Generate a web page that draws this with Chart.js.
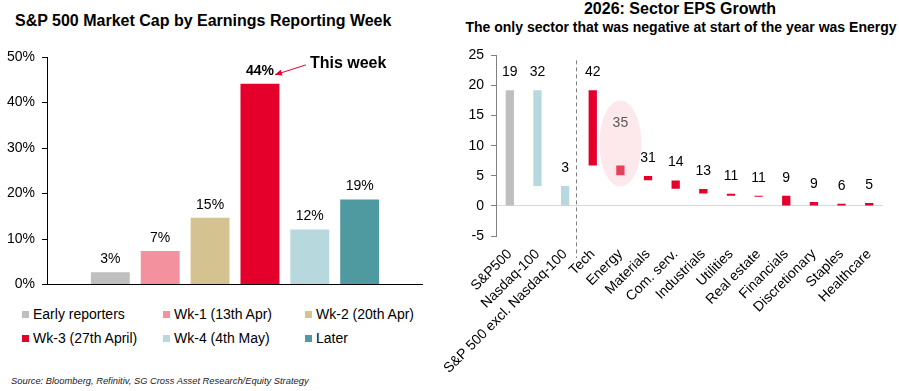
<!DOCTYPE html>
<html lang="en">
<head>
  <meta charset="UTF-8">
  <title>S&amp;P 500 earnings season</title>
  <script src="https://cdn.jsdelivr.net/npm/chart.js"></script>
  <style>
    body { margin: 0; background: #fff; font-family: "Liberation Sans", Arial, sans-serif; color: #000; }
    #page { position: relative; width: 899px; height: 391px; overflow: hidden; }
    .abs { position: absolute; white-space: nowrap; }
    #leftTitle { left: 15px; top: 11px; font-weight: bold; font-size: 16px; line-height: 20px; }
    #rightTitle { left: 680px; top: -1px; transform: translateX(-50%); font-weight: bold; font-size: 16px; line-height: 20px; }
    #rightSub { left: 681px; top: 17px; transform: translateX(-50%); font-weight: bold; font-size: 14px; line-height: 20px; }
    #leftWrap { left: 0; top: 40px; width: 450px; height: 260px; }
    #rightWrap { left: 440px; top: 40px; width: 459px; height: 351px; }
    .leg { font-size: 14px; line-height: 18px; }
    .leg i { position: absolute; left: 0; top: 6px; width: 7px; height: 7px; }
    .leg span { position: absolute; left: 11px; top: 0; }
    #source { left: 11px; top: 375px; font-style: italic; font-size: 9.35px; line-height: 12px; color: #222; }
  </style>
</head>
<body>
<div id="page">
  <div class="abs" id="leftTitle">S&amp;P 500 Market Cap by Earnings Reporting Week</div>
  <div class="abs" id="rightTitle">2026: Sector EPS Growth</div>
  <div class="abs" id="rightSub">The only sector that was negative at start of the year was Energy</div>
  <div class="abs" id="leftWrap"><canvas id="weekChart" width="450" height="260"></canvas></div>
  <div class="abs" id="rightWrap"><canvas id="epsChart" width="459" height="351"></canvas></div>
  <div id="legend"></div>
  <div class="abs" id="source">Source: Bloomberg, Refinitiv, SG Cross Asset Research/Equity Strategy</div>
</div>

<script>
  // left panel: share of market cap by reporting week
  const weekLabels = ['Early reporters', 'Wk-1 (13th Apr)', 'Wk-2 (20th Apr)', 'Wk-3 (27th April)', 'Wk-4 (4th May)', 'Later'];
  const weekShare = [2.7, 7.4, 14.7, 44.1, 12.1, 18.7];
  const weekShareText = ['3%', '7%', '15%', '44%', '12%', '19%'];
  const shareTicks = [0, 10, 20, 30, 40, 50];

  // right panel: sector EPS growth bars (from / to) and growth labels
  const sectors = ['S&P500', 'Nasdaq-100', 'S&P 500 excl. Nasdaq-100', 'Tech', 'Energy', 'Materials', 'Com. serv.',
    'Industrials', 'Utilities', 'Real estate', 'Financials', 'Discretionary', 'Staples', 'Healthcare'];
  const epsFrom = [0, 3.3, 0, 6.7, 5.1, 4.25, 2.85, 2.05, 1.67, 1.5, 0, 0, 0, 0];
  const epsTo = [19.2, 19.2, 3.3, 19.2, 6.7, 4.95, 4.2, 2.8, 2.0, 1.67, 1.7, 0.65, 0.35, 0.5];
  const epsGrowth = [19, 32, 3, 42, 35, 31, 14, 13, 11, 11, 9, 9, 6, 5];
  const epsTicks = [-5, 0, 5, 10, 15, 20, 25];

  const weekColors = ['#bfbfbf', '#f4919f', '#d4c291', '#e4002b', '#b7d8dc', '#4f9aa0'];
  const sectorColors = ['#bfbfbf', '#b7d8dc', '#b7d8dc', '#e4002b', '#e8405a', '#e4002b', '#e4002b',
    '#e4002b', '#e4002b', '#e4002b', '#e4002b', '#e4002b', '#e4002b', '#e4002b'];
  const highlight = sectors.indexOf('Energy');
  const FONT = '"Liberation Sans", Arial, sans-serif';

  Chart.defaults.font.family = FONT;
  Chart.defaults.color = '#000';

  // legend, two rows of three
  const legend = document.getElementById('legend');
  weekLabels.forEach((name, i) => {
    const d = document.createElement('div');
    d.className = 'abs leg';
    d.style.left = [22, 163, 305][i % 3] + 'px';
    d.style.top = (305 + Math.floor(i / 3) * 24) + 'px';
    d.innerHTML = '<i style="background:' + weekColors[i] + '"></i><span>' + name + '</span>';
    legend.appendChild(d);
  });

  const weekLabelPlugin = {
    id: 'weekLabels',
    afterDatasetsDraw(chart) {
      const ctx = chart.ctx;
      const bars = chart.getDatasetMeta(0).data;
      ctx.save();
      ctx.fillStyle = '#000';
      ctx.textAlign = 'center';
      ctx.textBaseline = 'middle';
      bars.forEach((bar, i) => {
        ctx.font = (i === 3 ? 'bold ' : '') + '14px ' + FONT;
        ctx.fillText(weekShareText[i], bar.x, bar.y - 13);
      });
      // "This week" callout
      const hot = bars[3];
      ctx.font = 'bold 16px ' + FONT;
      ctx.textAlign = 'left';
      ctx.fillText('This week', hot.x + 50, hot.y - 20);
      const x1 = hot.x + 46, y1 = hot.y - 19, x2 = hot.x + 15, y2 = hot.y - 9;
      const a = Math.atan2(y2 - y1, x2 - x1);
      ctx.strokeStyle = '#e4002b';
      ctx.fillStyle = '#e4002b';
      ctx.lineWidth = 1;
      ctx.beginPath();
      ctx.moveTo(x1, y1);
      ctx.lineTo(x2, y2);
      ctx.stroke();
      ctx.beginPath();
      ctx.moveTo(x2, y2);
      ctx.lineTo(x2 - 7 * Math.cos(a) + 3 * Math.sin(a), y2 - 7 * Math.sin(a) - 3 * Math.cos(a));
      ctx.lineTo(x2 - 7 * Math.cos(a) - 3 * Math.sin(a), y2 - 7 * Math.sin(a) + 3 * Math.cos(a));
      ctx.closePath();
      ctx.fill();
      ctx.restore();
    }
  };

  new Chart(document.getElementById('weekChart'), {
    type: 'bar',
    data: {
      datasets: [{
        data: weekShare.map((v, i) => ({ x: i + 1, y: v })),
        backgroundColor: weekColors,
        barPercentage: 0.78,
        categoryPercentage: 1
      }]
    },
    options: {
      responsive: false,
      animation: false,
      layout: { padding: { top: 17, right: 28, bottom: 15, left: 0 } },
      plugins: { legend: { display: false }, tooltip: { enabled: false } },
      scales: {
        x: {
          type: 'linear', min: -0.27, max: 7.25, offset: false,
          ticks: { display: false },
          grid: { display: false },
          border: { display: true, color: '#000', width: 1 },
          afterFit: s => { s.height = 0; }
        },
        y: {
          min: 0, max: 50,
          afterBuildTicks: s => { s.ticks = shareTicks.map(v => ({ value: v })); },
          ticks: { font: { size: 14 }, color: '#000', padding: 7, callback: v => v + '%' },
          grid: { drawOnChartArea: false, tickLength: 5, color: '#000', tickColor: '#000' },
          border: { color: '#000', width: 1 },
          afterFit: s => { s.width = 47; }
        }
      }
    },
    plugins: [weekLabelPlugin]
  });

  const epsPlugin = {
    id: 'epsDecor',
    beforeDatasetsDraw(chart) {
      const ctx = chart.ctx;
      const bar = chart.getDatasetMeta(0).data[highlight];
      const top = Math.min(bar.y, bar.base);
      ctx.save();
      ctx.fillStyle = '#fde8ec';
      ctx.beginPath();
      ctx.ellipse(bar.x, top - 22, 21, 43, 0, 0, Math.PI * 2);
      ctx.fill();
      // dashed divider between index groups and sectors
      const xs = chart.scales.x;
      const xd = Math.round((xs.getPixelForTick(2) + xs.getPixelForTick(3)) / 2) - 2.5;
      ctx.strokeStyle = '#7f7f7f';
      ctx.lineWidth = 1;
      ctx.setLineDash([4, 3]);
      ctx.beginPath();
      ctx.moveTo(xd, chart.chartArea.top + 5);
      ctx.lineTo(xd, chart.chartArea.bottom + 22);
      ctx.stroke();
      ctx.restore();
    },
    afterDatasetsDraw(chart) {
      const ctx = chart.ctx;
      ctx.save();
      ctx.font = '14px ' + FONT;
      ctx.textAlign = 'center';
      ctx.textBaseline = 'middle';
      chart.getDatasetMeta(0).data.forEach((bar, i) => {
        const top = Math.min(bar.y, bar.base);
        ctx.fillStyle = i === highlight ? '#595959' : '#000';
        ctx.fillText(String(epsGrowth[i]), bar.x, i === highlight ? top - 42 : top - 18);
      });
      ctx.restore();
    }
  };

  new Chart(document.getElementById('epsChart'), {
    type: 'bar',
    data: {
      labels: sectors,
      datasets: [{
        data: sectors.map((s, i) => [epsFrom[i], epsTo[i]]),
        backgroundColor: sectorColors,
        barPercentage: 0.3,
        categoryPercentage: 1
      }]
    },
    options: {
      responsive: false,
      animation: false,
      layout: { padding: { top: 10, right: 16, bottom: 0, left: 0 } },
      plugins: { legend: { display: false }, tooltip: { enabled: false } },
      scales: {
        x: {
          ticks: { font: { size: 14 }, color: '#000', autoSkip: false, minRotation: 45, maxRotation: 45, padding: 2 },
          grid: { display: false },
          border: { display: false },
          afterFit: s => { s.height = 155; }
        },
        y: {
          min: -5, max: 25,
          afterBuildTicks: s => { s.ticks = epsTicks.map(v => ({ value: v })); },
          ticks: { font: { size: 14 }, color: '#000', padding: 7 },
          grid: {
            tickLength: 5,
            color: c => (c.tick && c.tick.value === 0 ? '#d9d9d9' : 'rgba(0,0,0,0)'),
            tickColor: '#808080'
          },
          border: { color: '#808080', width: 1 },
          afterFit: s => { s.width = 56; }
        }
      }
    },
    plugins: [epsPlugin]
  });
</script>
</body>
</html>
